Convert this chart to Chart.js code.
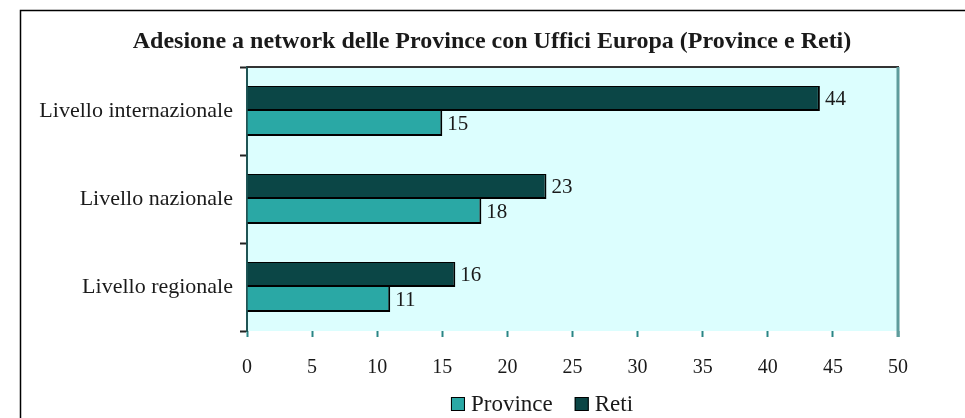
<!DOCTYPE html>
<html>
<head>
<meta charset="utf-8">
<script src="https://cdn.jsdelivr.net/npm/chart.js@4"></script>
<style>
  body { margin: 0; background: #fff; }
  #wrap { width: 965px; height: 418px; position: relative; }
</style>
</head>
<body>
<div id="wrap"><canvas id="chart"></canvas></div>
<script>
// Data
const chartTitle = 'Adesione a network delle Province con Uffici Europa (Province e Reti)';
const categories = ['Livello internazionale', 'Livello nazionale', 'Livello regionale'];
const retiValues = [44, 23, 16];
const provinceValues = [15, 18, 11];
const xTicks = [0, 5, 10, 15, 20, 25, 30, 35, 40, 45, 50];
const legendOrder = [1, 0]; // Province first, then Reti

const serif = '"Liberation Serif", "Times New Roman", serif';
const textColor = '#1a1a1a';

// plot background, frame, outer border, title and legend
const framePlugin = {
  id: 'frame',
  beforeDraw(chart) {
    const { ctx, chartArea: a } = chart;
    ctx.save();
    ctx.fillStyle = '#dcfefe';
    ctx.fillRect(a.left, a.top, a.right - a.left, a.bottom - a.top);
    ctx.restore();
  },
  afterDraw(chart) {
    const { ctx, chartArea: a } = chart;
    ctx.save();
    // top border of plot
    ctx.strokeStyle = '#333';
    ctx.lineWidth = 2;
    ctx.beginPath();
    ctx.moveTo(a.left, a.top);
    ctx.lineTo(a.right + 1, a.top);
    ctx.stroke();
    // right border of plot
    ctx.strokeStyle = '#5f9c9c';
    ctx.lineWidth = 3;
    ctx.beginPath();
    ctx.moveTo(a.right, a.top);
    ctx.lineTo(a.right, a.bottom + 6);
    ctx.stroke();
    // outer border (left + top)
    ctx.strokeStyle = '#000';
    ctx.lineWidth = 1.5;
    ctx.beginPath();
    ctx.moveTo(20.5, chart.height);
    ctx.lineTo(20.5, 10.5);
    ctx.lineTo(chart.width, 10.5);
    ctx.stroke();
    // title
    ctx.fillStyle = textColor;
    ctx.font = 'bold 24px ' + serif;
    ctx.textAlign = 'center';
    ctx.textBaseline = 'middle';
    ctx.fillText(chartTitle, 492, 42);

    // legend
    ctx.font = '23px ' + serif;
    ctx.textAlign = 'left';
    const box = 14, gap = 6, itemGap = 22;
    const items = legendOrder.map(i => chart.data.datasets[i]);
    let total = 0;
    items.forEach((ds, k) => {
      total += box + gap + ctx.measureText(ds.label).width + (k ? 0 : itemGap);
    });
    let x = 542 - total / 2;
    const y = 404;
    items.forEach(ds => {
      ctx.fillStyle = ds.backgroundColor;
      ctx.fillRect(x, y - box / 2, box, box);
      ctx.strokeStyle = '#000';
      ctx.lineWidth = 1;
      ctx.strokeRect(x + 0.5, y - box / 2 + 0.5, box - 1, box - 1);
      x += box + gap;
      ctx.fillStyle = textColor;
      ctx.fillText(ds.label, x, y + 1);
      x += ctx.measureText(ds.label).width + itemGap;
    });
    ctx.restore();
  }
};

// value labels next to bar ends
const valueLabels = {
  id: 'valueLabels',
  afterDatasetsDraw(chart) {
    const { ctx } = chart;
    ctx.save();
    ctx.fillStyle = textColor;
    ctx.font = '21px ' + serif;
    ctx.textAlign = 'left';
    ctx.textBaseline = 'middle';
    chart.data.datasets.forEach((ds, i) => {
      chart.getDatasetMeta(i).data.forEach((bar, j) => {
        ctx.fillText(ds.data[j], bar.x + 5, bar.y + 1);
      });
    });
    ctx.restore();
  }
};

new Chart(document.getElementById('chart'), {
  type: 'bar',
  data: {
    labels: categories,
    datasets: [
      {
        label: 'Reti',
        data: retiValues,
        backgroundColor: '#0b4646',
        borderColor: '#000',
        borderWidth: { top: 1, right: 2, bottom: 2, left: 0 },
        borderSkipped: false,
        categoryPercentage: 0.57,
        barPercentage: 1.0
      },
      {
        label: 'Province',
        data: provinceValues,
        backgroundColor: '#2aa8a5',
        borderColor: '#000',
        borderWidth: { top: 0, right: 2, bottom: 2, left: 0 },
        borderSkipped: false,
        categoryPercentage: 0.57,
        barPercentage: 1.0
      }
    ]
  },
  options: {
    indexAxis: 'y',
    responsive: true,
    maintainAspectRatio: false,
    animation: false,
    layout: { padding: { left: 0, right: 67, top: 67, bottom: 0 } },
    plugins: {
      title: { display: false },
      tooltip: { enabled: false },
      legend: { display: false }
    },
    scales: {
      x: {
        min: 0,
        max: 50,
        afterBuildTicks: (s) => { s.ticks = xTicks.map(v => ({ value: v })); },
        afterFit: (s) => { s.height = 87; },
        border: { display: false },
        grid: {
          drawOnChartArea: false,
          drawTicks: true,
          tickLength: 6,
          tickWidth: 2,
          tickColor: '#2a8686'
        },
        ticks: {
          padding: 19,
          font: { family: serif, size: 20 },
          color: textColor
        }
      },
      y: {
        afterFit: (s) => { s.width = 247; },
        border: { display: true, color: '#1f5555', width: 2 },
        grid: {
          offset: true,
          drawOnChartArea: false,
          drawTicks: true,
          tickLength: 7,
          tickWidth: 2,
          tickColor: '#222'
        },
        ticks: {
          padding: 7,
          font: { family: serif, size: 22 },
          color: textColor
        }
      }
    }
  },
  plugins: [framePlugin, valueLabels]
});
</script>
</body>
</html>
